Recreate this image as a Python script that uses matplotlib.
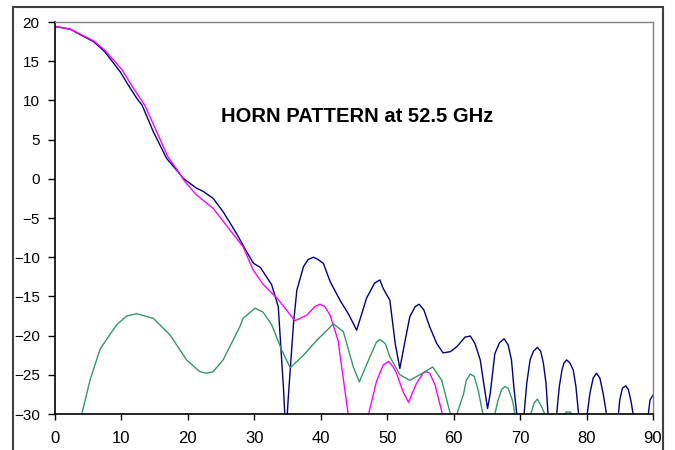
import matplotlib
matplotlib.use('Agg')
import matplotlib.pyplot as plt
from matplotlib.patches import Rectangle

plt.rcParams['font.family'] = ['Liberation Sans', 'DejaVu Sans']

# copolar pattern (navy)
navy_x = [0, 1, 2.3, 4, 5.8, 7.5, 9.8, 11, 12.3, 13.1, 14.8, 16.8, 18.3, 19.3, 21.3, 22.3,
          23.8, 25.3, 27.3, 28.9, 29.9, 30.9, 32.6, 33.6, 34.4, 34.75, 35.1, 35.9, 36.4,
          37.4, 38.1, 38.9, 39.6, 40.4, 41.4, 42.9, 44.2, 45.4, 46.9, 48.1, 48.9, 49.4,
          50.4, 51.2, 51.9, 52.7, 53.4, 54.2, 54.8, 55.5, 56.4, 57.45, 58.4, 59.5, 60.5,
          61.7, 62.5, 63.2, 64.0, 64.6, 65.1, 65.5, 66.2, 66.9, 67.6, 68.2, 68.7, 69.05,
          69.5, 70.0, 70.6, 71.0, 71.5, 72.0, 72.6, 73.1, 73.5, 73.9, 74.2, 74.8, 75.5,
          75.9, 76.3, 76.6, 77.0, 77.5, 78.0, 78.4, 78.8, 79.4, 80.1, 80.5, 81.0, 81.5,
          82.0, 82.5, 83.0, 83.9, 84.8, 85.0, 85.4, 85.9, 86.3, 86.7, 87.0, 88.2, 89.3,
          89.55, 90]
navy_y = [19.4, 19.3, 19.07, 18.3, 17.5, 16.2, 13.66, 12.0, 10.27, 9.4, 6.0, 2.6, 1.1, 0.06,
          -1.2, -1.6, -2.5, -4.2, -6.95, -9.4, -10.8, -11.3, -13.5, -16.3, -26.9, -33,
          -28, -18.4, -14.2, -11.2, -10.3, -10.0, -10.3, -10.8, -13.1, -15.5, -17.3, -19.3,
          -15.2, -13.3, -12.9, -14.0, -15.5, -21.0, -24.2, -20.6, -17.6, -16.3, -16.0,
          -16.7, -18.9, -21.0, -22.2, -22.05, -21.4, -20.2, -20.05, -21.0, -23.1, -26.5,
          -29.3, -27.4, -22.3, -20.9, -20.4, -21.2, -23.1, -26.5, -30, -34, -30, -26.1,
          -23.1, -22.0, -21.5, -22.0, -23.5, -26.1, -30, -34, -30, -26.5, -24.4, -23.5,
          -23.1, -23.5, -24.4, -26.5, -30, -34, -30, -27.4, -25.4, -24.8, -25.4, -27.4,
          -30, -34, -30, -28.2, -26.7, -26.4, -26.9, -28.4, -30, -34, -30, -28.2, -27.6]

# magenta pattern
mag_x = [0, 2.3, 5.8, 7.5, 10.0, 12.0, 13.5, 15.2, 17.0, 18.5, 19.5, 21.3, 23.8, 26.3,
         28.3, 29.8, 31.35, 33.4, 35.0, 36.1, 37.9, 39.1, 39.9, 40.6, 41.4, 42.6, 44.1,
         44.8, 46.5, 47.2, 48.4, 49.4, 50.2, 50.9, 51.4, 52.4, 53.2, 54.4, 55.4, 55.9,
         56.4, 57.2, 58.3, 58.8]
mag_y = [19.4, 19.1, 17.6, 16.4, 14.0, 11.3, 9.4, 6.2, 2.8, 1.0, -0.3, -2.07, -3.77, -6.5,
         -8.66, -11.6, -13.5, -15.2, -16.9, -18.1, -17.4, -16.3, -16.0, -16.3, -17.4, -20.6,
         -29.9, -36, -36, -30, -25.8, -23.75, -23.3, -24.0, -24.8, -27.2, -28.5, -26.1,
         -24.8, -24.6, -24.8, -26.3, -30, -34]

# crosspolar pattern (green)
grn_x = [3.0, 4.0, 5.3, 6.8, 8.0, 9.3, 10.8, 12.3, 14.8, 17.3, 19.8, 21.8, 22.8, 23.8, 25.3,
         27.8, 28.3, 30.1, 31.3, 32.6, 34.1, 35.4, 37.4, 39.4, 41.9, 43.4, 44.9, 45.8, 47.4,
         48.4, 48.9, 49.7, 50.4, 51.9, 53.4, 54.9, 56.85, 58.2, 59.5, 60.0, 60.5, 61.5,
         61.9, 62.5, 63.1, 63.7, 64.4, 65.3, 66.2, 66.7, 67.2, 67.7, 68.2, 68.9, 69.2, 70.4,
         71.6, 72.1, 72.6, 73.25, 73.7, 75.3, 76.7, 76.9, 77.6, 77.8, 79]
grn_y = [-36, -30.1, -25.6, -21.7, -20.2, -18.6, -17.5, -17.2, -17.8, -19.9, -23.1, -24.6,
         -24.8, -24.6, -23.1, -18.9, -17.8, -16.5, -17.0, -18.6, -21.8, -24.1, -22.5, -20.6,
         -18.5, -19.5, -24.0, -25.9, -22.7, -20.8, -20.5, -21.0, -22.7, -25.0, -25.7, -25.0,
         -24.0, -25.7, -30, -34, -30, -27.4, -25.7, -24.9, -25.2, -27.0, -30, -34, -30,
         -28.2, -26.9, -26.5, -26.7, -28.4, -30, -34, -30, -28.6, -28.1, -29.1, -30, -34,
         -30.5, -29.75, -29.75, -30.5, -34]

xticks = list(range(0, 91, 10))
yticks = list(range(-30, 21, 5))

fig = plt.figure(figsize=(6.75, 4.5), dpi=100)
ax = fig.add_axes([55 / 675, 1 - 414 / 450, 598 / 675, 392 / 450])

ax.plot(navy_x, navy_y, color='#000080', lw=1.0)
ax.plot(mag_x, mag_y, color='#FF00FF', lw=1.0)
ax.plot(grn_x, grn_y, color='#339966', lw=1.0)

ax.set_xlim(0, 90)
ax.set_ylim(-30, 20)
ax.set_xticks(xticks)
ax.set_yticks(yticks)
ax.tick_params(axis='y', direction='out', length=5, width=1, labelsize=11, pad=6)
ax.tick_params(axis='x', direction='out', length=4, width=1, labelsize=12, pad=8)

for s in ['left', 'bottom']:
    ax.spines[s].set_color('black')
    ax.spines[s].set_linewidth(1.2)
for s in ['top', 'right']:
    ax.spines[s].set_color('#808080')
    ax.spines[s].set_linewidth(1.0)

ax.text(0.506, 0.758, 'HORN PATTERN at 52.5 GHz', transform=ax.transAxes,
        ha='center', va='center', fontsize=14.5, fontweight='bold')

# outer chart border (bottom edge runs off the picture)
fig.patches.append(Rectangle((13 / 675, -0.05), 650 / 675, 1.05 - 7 / 450,
                             transform=fig.transFigure, fill=False,
                             edgecolor='#404040', lw=1.5, clip_on=False))

fig.savefig('out.png', dpi=100)
